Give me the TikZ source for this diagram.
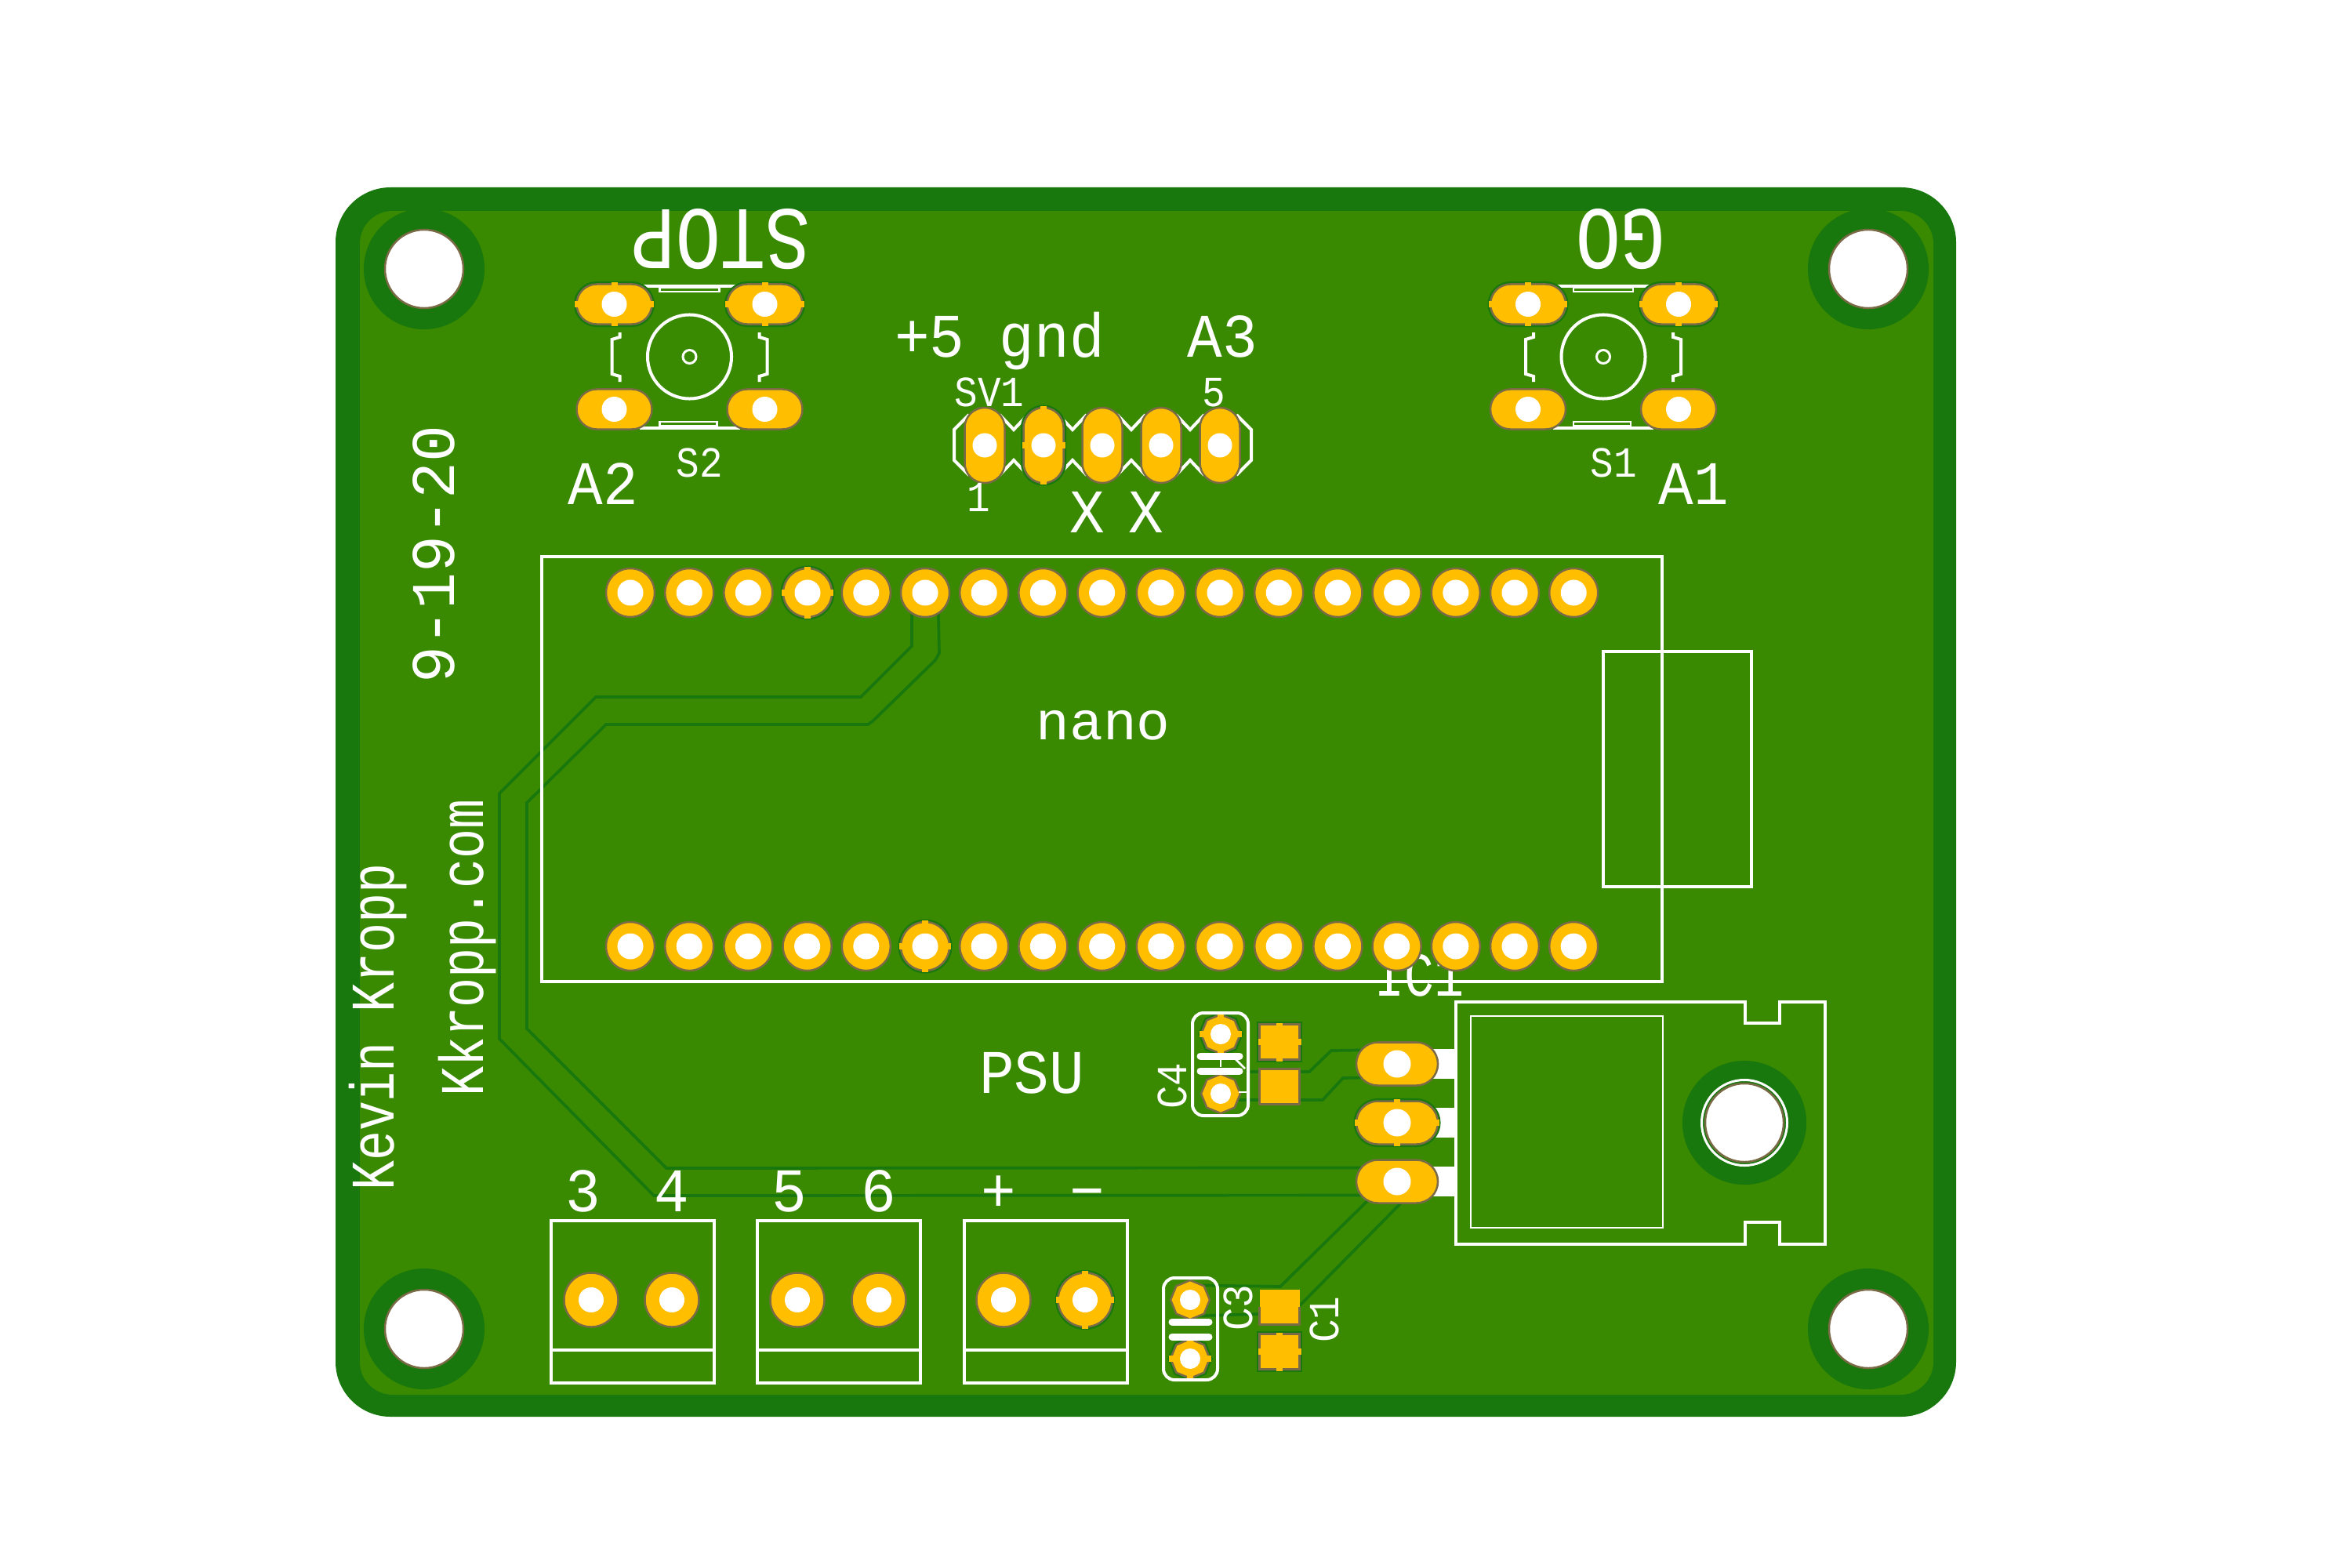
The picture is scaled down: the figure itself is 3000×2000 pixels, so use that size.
\documentclass[tikz,border=0pt]{standalone}
\usepackage{fontspec}
\usetikzlibrary{shapes.geometric}
\usetikzlibrary{shapes.misc}
\newfontfamily\silkbigfont{Liberation Mono}[FakeStretch=.84]
\newfontfamily\silkmedfont{Liberation Mono}[FakeStretch=.94]
\newfontfamily\silkslimfont{Liberation Mono}[FakeStretch=.8]
\newfontfamily\silksmallfont{Liberation Mono}[FakeStretch=.9]
\definecolor{boardgreen}{RGB}{57,138,0}
\definecolor{maskgreen}{RGB}{24,120,14}
\definecolor{padgold}{RGB}{255,191,0}
\definecolor{padedge}{RGB}{122,107,70}
\pgfdeclarelayer{board}
\pgfdeclarelayer{tracks}
\pgfsetlayers{board,tracks,main}

\begin{document}
\begin{tikzpicture}[x=0.01cm,y=-0.01cm,
	silk/.style={draw=white,line width=.4mm},
	silkthin/.style={draw=white,line width=.25mm},
	bar/.style={draw=white,line width=.9mm,line cap=round},
	track/.style={draw=maskgreen,line width=.37mm},
	silktext/.style={inner sep=0,outer sep=0,text=white,anchor=base},
	bigtext/.style={silktext,font=\silkbigfont\fontsize{32.4}{32.4}\selectfont},
	medtext/.style={silktext,font=\silkmedfont\fontsize{22.5}{22.5}\selectfont},
	slimtext/.style={silktext,font=\silkslimfont\fontsize{22.5}{22.5}\selectfont},
	smalltext/.style={silktext,font=\silksmallfont\fontsize{15.6}{15.6}\selectfont},
	pad/.style={draw=padedge,line width=.25mm,fill=padgold,inner sep=0,outer sep=0},
	thermal/.style={preaction={draw=maskgreen,line width=.7mm}},
	stub/.style={draw=padgold,line width=.8mm,shorten <=-.2mm,shorten >=-.2mm},
	pin/.style={pad,circle,minimum size=6.2mm},
	screwpin/.style={pad,circle,minimum size=6.9mm},
	octpin/.style={pad,regular polygon,regular polygon sides=8,regular polygon rotate=22.5,minimum size=5mm},
	keypad/.style={pad,rounded rectangle,minimum width=9.6mm,minimum height=5.1mm},
	headpad/.style={keypad,rotate=90},
	regpad/.style={pad,rounded rectangle,minimum width=10.4mm,minimum height=5.5mm},
	smd/.style={pad,rectangle,minimum width=5.1mm,minimum height=4.5mm},
	regleg/.style={rectangle,fill=white,inner sep=0,minimum width=3mm,minimum height=3.8mm},
	drill/.style={circle,fill=white,inner sep=0,outer sep=0,minimum size=#1},
	mountring/.style={circle,fill=maskgreen,inner sep=0,minimum size=#1},
	mounthole/.style={circle,fill=white,draw=padedge,line width=.25mm,inner sep=0,minimum size=10mm}]
\useasboundingbox (0,0) rectangle (3000,2000);

%board and mounting holes
\begin{pgfonlayer}{board}
\fill[white] (0,0) rectangle (3000,2000);
\fill[maskgreen,rounded corners=.7cm] (428,239) rectangle (2495,1807);
\fill[boardgreen,rounded corners=.42cm] (459,269) rectangle (2466,1779);
\foreach\n/\x/\y in {tl/541/343,tr/2383/343,bl/541/1695,br/2383/1695}{
	\node[mountring=15.4mm] (ring\n) at (\x,\y) {};}
\node[mountring=15.8mm] (ringic) at (2225,1432) {};
\end{pgfonlayer}

%nano outline and usb
\draw[silk] (691,710) rectangle (2120,1252);
\draw[silk] (2045,831) rectangle (2234,1131);
\node[medtext,xscale=1.1,transform shape,font=\silkmedfont\fontsize{19.6}{19.6}\selectfont] (lblnano) at (1407,943) {nano};

%buttons, silk
\foreach\cx in {879.5,2045}{
	\draw[silk] (\cx-64,365) -- (\cx+64,365);
	\draw[silk] (\cx-64,546) -- (\cx+64,546);
	\draw[silkthin] (\cx-38,367) rectangle (\cx+38,372);
	\draw[silkthin] (\cx-38,538) rectangle (\cx+35,543);
	\draw[silk] (\cx-89,424) -- (\cx-89,430) -- (\cx-99,433) -- (\cx-99,477) -- (\cx-89,480) -- (\cx-89,487);
	\draw[silk] (\cx+89,424) -- (\cx+89,430) -- (\cx+99,433) -- (\cx+99,477) -- (\cx+89,480) -- (\cx+89,487);
	\node[circle,silk,inner sep=0,minimum size=10.7mm] (knob\cx) at (\cx,455) {};
	\node[circle,draw=white,line width=.3mm,inner sep=0,minimum size=1.7mm] (dot\cx) at (\cx,455) {};
}

%header, silk
\foreach\m in {1293,1368,1443,1518}{
	\draw[silk] (\m-18,529) -- (\m,548) -- (\m+18,529);
	\draw[silk] (\m-18,606) -- (\m,587) -- (\m+18,606);
}
\draw[silk] (1236,529) -- (1217,548) -- (1217,587) -- (1236,606);
\draw[silk] (1577,529) -- (1596,548) -- (1596,587) -- (1577,606);

%regulator, silk
\foreach\y in {1357,1432,1507}{\node[regleg] (leg\y) at (1841,\y) {};}
\draw[silk] (1857,1278) -- (2226,1278) -- (2226,1305) -- (2270,1305) -- (2270,1278) -- (2328,1278)
	-- (2328,1587) -- (2270,1587) -- (2270,1559) -- (2226,1559) -- (2226,1587) -- (1857,1587) -- cycle;
\draw[silkthin] (1876,1296) rectangle (2121,1566);
\node[circle,silk,line width=.3mm,inner sep=0,minimum size=10.9mm] (icring) at (2225,1432) {};
\node[slimtext] (lblic) at (1810,1270) {IC1};

%screw terminals
\foreach\tb in {703,966,1230}{
	\draw[silk] (\tb,1557) rectangle (\tb+208,1764);
	\draw[silk] (\tb,1722) -- (\tb+208,1722);
}

%pads
\foreach\x in {0,...,16}{
	\node[pin] (t\x) at ({804+\x*75.2},756) {};
	\node[pin] (b\x) at ({804+\x*75.2},1207) {};
}
\node[pin,thermal] (t3) at (1030,756) {};
\node[pin,thermal] (b5) at (1180,1207) {};
\node[pin] (t5) at (1180,756) {};

\foreach\s/\cx in {s2/879.5,s1/2045}{
	\node[keypad,thermal] (\s-a) at (\cx-96,388) {};
	\node[keypad,thermal] (\s-b) at (\cx+96,388) {};
	\node[keypad] (\s-c) at (\cx-96,522) {};
	\node[keypad] (\s-d) at (\cx+96,522) {};
}

\node[headpad] (sv1) at (1256,568) {};
\node[headpad,thermal] (sv2) at (1331,568) {};
\node[headpad] (sv3) at (1406,568) {};
\node[headpad] (sv4) at (1481,568) {};
\node[headpad] (sv5) at (1556,568) {};

\node[regpad] (reg1) at (1782,1357) {};
\node[regpad,thermal] (reg2) at (1782,1432) {};
\node[regpad] (reg3) at (1782,1507) {};

\node[screwpin] (j1) at (754,1658) {};
\node[screwpin] (j2) at (857,1658) {};
\node[screwpin] (j3) at (1017,1658) {};
\node[screwpin] (j4) at (1121,1658) {};
\node[screwpin] (j5) at (1280,1658) {};
\node[screwpin,thermal] (j6) at (1384,1658) {};

\node[octpin,thermal] (c4a) at (1557,1319) {};
\node[octpin] (c4b) at (1557,1395) {};
\node[octpin] (c3a) at (1518,1658) {};
\node[octpin,thermal] (c3b) at (1518,1733) {};

\node[smd,thermal] (c4top) at (1632,1329) {};
\node[smd] (c4low) at (1632,1386) {};
\node[smd,draw=none] (c3top) at (1632,1667) {};
\draw[draw=padedge,line width=.25mm] (c3top.west) -- (c3top.south west) -- (c3top.south east) -- (c3top.east);
\node[smd,thermal] (c1low) at (1632,1724) {};

\foreach\p in {t3,b5,s2-a,s2-b,s1-a,s1-b,sv2,reg2,j6,c4a,c3b,c4top,c1low}{
	\draw[stub] (\p.north) -- (\p.south);
	\draw[stub] (\p.west) -- (\p.east);
}

%drills
\foreach\x in {0,...,16}{
	\node[drill=3.3mm] (th\x) at (t\x) {};
	\node[drill=3.3mm] (bh\x) at (b\x) {};
}
\foreach\p/\d in {s2-a/3.2mm,s2-b/3.2mm,s2-c/3.2mm,s2-d/3.2mm,s1-a/3.2mm,s1-b/3.2mm,s1-c/3.2mm,s1-d/3.2mm,
	sv1/3.1mm,sv2/3.1mm,sv3/3.1mm,sv4/3.1mm,sv5/3.1mm,reg1/3.5mm,reg2/3.5mm,reg3/3.5mm,
	j1/3.2mm,j2/3.2mm,j3/3.2mm,j4/3.2mm,j5/3.2mm,j6/3.2mm,c4a/2.6mm,c4b/2.6mm,c3a/2.6mm,c3b/2.6mm}{
	\node[drill=\d] (h\p) at (\p) {};
}
\foreach\n/\x/\y in {tl/541/343,tr/2383/343,bl/541/1695,br/2383/1695}{
	\node[mounthole] (hole\n) at (\x,\y) {};}
\node[mounthole] (holeic) at (2225,1432) {};

%capacitors, silk
\draw[silk,rounded corners=.14cm] (1521,1292) rectangle (1592,1423);
\draw[bar] (1531,1347) -- (1581,1347);
\draw[bar] (1531,1366) -- (1581,1366);
\draw[silkthin] (1557,1352) -- (1557,1361);
\draw[silkthin] (1575,1350) -- (1588,1363);
\draw[silkthin] (1580,1393) -- (1590,1393);
\draw[silk,rounded corners=.14cm] (1484,1630) rectangle (1553,1760);
\draw[bar] (1495,1686) -- (1542,1686);
\draw[bar] (1495,1705) -- (1542,1705);

%tracks
\begin{pgfonlayer}{tracks}
\draw[track] (t5.237) -- (1163,824) -- (1098,889) -- (760,889) -- (637,1012) -- (637,1325) -- (834,1525) -- (reg3.201);
\draw[track] (t5.303) -- (1198,833) -- (1193,842) -- (1113,920) -- (1107,924) -- (773,924) -- (672,1024) -- (672,1312) -- (850,1490) -- (reg3.159);
\coordinate (c4start) at (1590,1367);
\draw[track] (c4start) -- (1670,1367) -- (1698,1340) -- (reg1.159);
\draw[track] (c4b.340) -- (1687,1403) -- (1713,1375) -- (reg1.201);
\draw[track] (c3a.50) -- (1633,1641) -- (reg3.213);
\draw[track] (c3a.300) -- (1645,1675) -- (1657,1666) -- (reg3.280);
\end{pgfonlayer}

%text
\node[bigtext,rotate=180] (lblstop) at (919,268) {STOP};
\node[bigtext,rotate=180] (lblgo) at (2067,268) {GO};
\node[medtext] (lblpins) at (1275,455) {+5 gnd};
\node[medtext] (lbla3) at (1559,455) {A3};
\node[medtext] (lbla2) at (769,643) {A2};
\node[medtext] (lbla1) at (2160,643) {A1};
\node[medtext] (lblx1) at (1387,679) {X};
\node[medtext] (lblx2) at (1462,679) {X};
\node[smalltext] (lblsv) at (1262,518) {SV1};
\node[smalltext] (lblfive) at (1548,518) {5};
\node[smalltext] (lblone) at (1248,652) {1};
\node[smalltext] (lbls2) at (892,608) {S2};
\node[smalltext] (lbls1) at (2058,608) {S1};
\node[medtext,rotate=90,xscale=1.05,transform shape] (lbldate) at (579,707) {9-19-20};
\node[slimtext,rotate=90] (lblname) at (502,1310) {Kevin Kropp};
\node[slimtext,rotate=90] (lblweb) at (616,1209) {Kkropp.com};
\node[medtext] (lblpsu) at (1316,1394) {PSU};
\foreach\n/\t/\x in {a/3/744,b/4/857,c/5/1007,d/6/1121,e/+/1274,f/−/1387}{
	\node[medtext] (lblj\n) at (\x,1545) {\t};}
\node[smalltext,rotate=90] (lblc4) at (1513,1385) {C4};
\node[smalltext,rotate=90] (lblc3) at (1597,1668) {C3};
\node[smalltext,rotate=90] (lblc1) at (1707,1683) {C1};
\end{tikzpicture}
\end{document}
